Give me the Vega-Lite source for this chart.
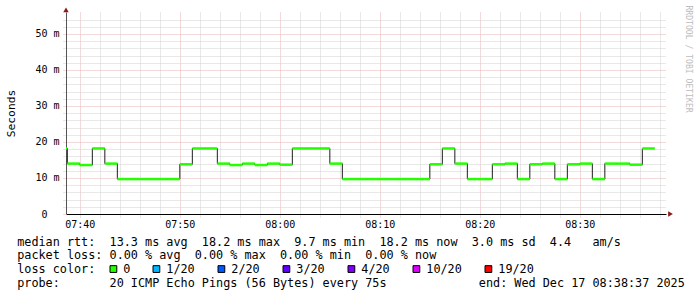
{
  "$schema": "https://vega.github.io/schema/vega-lite/v6.json",
  "width": 600,
  "height": 202,
  "autosize": {"type": "none"},
  "padding": {"left": 66, "top": 12, "right": 31, "bottom": 83},
  "background": "white",
  "config": {
    "view": {"stroke": null},
    "font": "DejaVu Sans Mono"
  },
  "data": {
    "values": [
      {"start": "2025-12-17T07:37:30Z", "end": "2025-12-17T07:38:45Z", "ms": 18.2, "loss": "0"},
      {"start": "2025-12-17T07:38:45Z", "end": "2025-12-17T07:40:00Z", "ms": 14.0, "loss": "0"},
      {"start": "2025-12-17T07:40:00Z", "end": "2025-12-17T07:41:15Z", "ms": 13.6, "loss": "0"},
      {"start": "2025-12-17T07:41:15Z", "end": "2025-12-17T07:42:30Z", "ms": 18.2, "loss": "0"},
      {"start": "2025-12-17T07:42:30Z", "end": "2025-12-17T07:43:45Z", "ms": 14.0, "loss": "0"},
      {"start": "2025-12-17T07:43:45Z", "end": "2025-12-17T07:45:00Z", "ms": 9.7, "loss": "0"},
      {"start": "2025-12-17T07:45:00Z", "end": "2025-12-17T07:46:15Z", "ms": 9.7, "loss": "0"},
      {"start": "2025-12-17T07:46:15Z", "end": "2025-12-17T07:47:30Z", "ms": 9.7, "loss": "0"},
      {"start": "2025-12-17T07:47:30Z", "end": "2025-12-17T07:48:45Z", "ms": 9.7, "loss": "0"},
      {"start": "2025-12-17T07:48:45Z", "end": "2025-12-17T07:50:00Z", "ms": 9.7, "loss": "0"},
      {"start": "2025-12-17T07:50:00Z", "end": "2025-12-17T07:51:15Z", "ms": 13.8, "loss": "0"},
      {"start": "2025-12-17T07:51:15Z", "end": "2025-12-17T07:52:30Z", "ms": 18.2, "loss": "0"},
      {"start": "2025-12-17T07:52:30Z", "end": "2025-12-17T07:53:45Z", "ms": 18.2, "loss": "0"},
      {"start": "2025-12-17T07:53:45Z", "end": "2025-12-17T07:55:00Z", "ms": 14.0, "loss": "0"},
      {"start": "2025-12-17T07:55:00Z", "end": "2025-12-17T07:56:15Z", "ms": 13.6, "loss": "0"},
      {"start": "2025-12-17T07:56:15Z", "end": "2025-12-17T07:57:30Z", "ms": 14.0, "loss": "0"},
      {"start": "2025-12-17T07:57:30Z", "end": "2025-12-17T07:58:45Z", "ms": 13.6, "loss": "0"},
      {"start": "2025-12-17T07:58:45Z", "end": "2025-12-17T08:00:00Z", "ms": 14.0, "loss": "0"},
      {"start": "2025-12-17T08:00:00Z", "end": "2025-12-17T08:01:15Z", "ms": 13.7, "loss": "0"},
      {"start": "2025-12-17T08:01:15Z", "end": "2025-12-17T08:02:30Z", "ms": 18.2, "loss": "0"},
      {"start": "2025-12-17T08:02:30Z", "end": "2025-12-17T08:03:45Z", "ms": 18.2, "loss": "0"},
      {"start": "2025-12-17T08:03:45Z", "end": "2025-12-17T08:05:00Z", "ms": 18.2, "loss": "0"},
      {"start": "2025-12-17T08:05:00Z", "end": "2025-12-17T08:06:15Z", "ms": 14.0, "loss": "0"},
      {"start": "2025-12-17T08:06:15Z", "end": "2025-12-17T08:07:30Z", "ms": 9.7, "loss": "0"},
      {"start": "2025-12-17T08:07:30Z", "end": "2025-12-17T08:08:45Z", "ms": 9.7, "loss": "0"},
      {"start": "2025-12-17T08:08:45Z", "end": "2025-12-17T08:10:00Z", "ms": 9.7, "loss": "0"},
      {"start": "2025-12-17T08:10:00Z", "end": "2025-12-17T08:11:15Z", "ms": 9.7, "loss": "0"},
      {"start": "2025-12-17T08:11:15Z", "end": "2025-12-17T08:12:30Z", "ms": 9.7, "loss": "0"},
      {"start": "2025-12-17T08:12:30Z", "end": "2025-12-17T08:13:45Z", "ms": 9.7, "loss": "0"},
      {"start": "2025-12-17T08:13:45Z", "end": "2025-12-17T08:15:00Z", "ms": 9.7, "loss": "0"},
      {"start": "2025-12-17T08:15:00Z", "end": "2025-12-17T08:16:15Z", "ms": 13.8, "loss": "0"},
      {"start": "2025-12-17T08:16:15Z", "end": "2025-12-17T08:17:30Z", "ms": 18.2, "loss": "0"},
      {"start": "2025-12-17T08:17:30Z", "end": "2025-12-17T08:18:45Z", "ms": 14.0, "loss": "0"},
      {"start": "2025-12-17T08:18:45Z", "end": "2025-12-17T08:20:00Z", "ms": 9.7, "loss": "0"},
      {"start": "2025-12-17T08:20:00Z", "end": "2025-12-17T08:21:15Z", "ms": 9.7, "loss": "0"},
      {"start": "2025-12-17T08:21:15Z", "end": "2025-12-17T08:22:30Z", "ms": 13.8, "loss": "0"},
      {"start": "2025-12-17T08:22:30Z", "end": "2025-12-17T08:23:45Z", "ms": 14.0, "loss": "0"},
      {"start": "2025-12-17T08:23:45Z", "end": "2025-12-17T08:25:00Z", "ms": 9.7, "loss": "0"},
      {"start": "2025-12-17T08:25:00Z", "end": "2025-12-17T08:26:15Z", "ms": 13.8, "loss": "0"},
      {"start": "2025-12-17T08:26:15Z", "end": "2025-12-17T08:27:30Z", "ms": 14.0, "loss": "0"},
      {"start": "2025-12-17T08:27:30Z", "end": "2025-12-17T08:28:45Z", "ms": 9.7, "loss": "0"},
      {"start": "2025-12-17T08:28:45Z", "end": "2025-12-17T08:30:00Z", "ms": 13.8, "loss": "0"},
      {"start": "2025-12-17T08:30:00Z", "end": "2025-12-17T08:31:15Z", "ms": 14.0, "loss": "0"},
      {"start": "2025-12-17T08:31:15Z", "end": "2025-12-17T08:32:30Z", "ms": 9.7, "loss": "0"},
      {"start": "2025-12-17T08:32:30Z", "end": "2025-12-17T08:33:45Z", "ms": 14.0, "loss": "0"},
      {"start": "2025-12-17T08:33:45Z", "end": "2025-12-17T08:35:00Z", "ms": 14.0, "loss": "0"},
      {"start": "2025-12-17T08:35:00Z", "end": "2025-12-17T08:36:15Z", "ms": 13.7, "loss": "0"},
      {"start": "2025-12-17T08:36:15Z", "end": "2025-12-17T08:37:30Z", "ms": 18.2, "loss": "0"}
    ]
  },
  "layer": [
    {
      "mark": {"type": "line", "interpolate": "step-after", "color": "#1e1e1e", "strokeWidth": 1, "clip": true},
      "encoding": {
        "x": {"field": "start", "type": "temporal",
          "scale": {"type": "utc", "domain": [{"year": 2025, "month": 12, "date": 17, "hours": 7, "minutes": 38, "seconds": 37, "utc": true}, {"year": 2025, "month": 12, "date": 17, "hours": 8, "minutes": 38, "seconds": 37, "utc": true}]},
          "axis": {
            "orient": "bottom", "title": null, "labels": false, "domain": false,
            "values": [
              {"year": 2025, "month": 12, "date": 17, "hours": 7, "minutes": 42, "utc": true},
              {"year": 2025, "month": 12, "date": 17, "hours": 7, "minutes": 44, "utc": true},
              {"year": 2025, "month": 12, "date": 17, "hours": 7, "minutes": 46, "utc": true},
              {"year": 2025, "month": 12, "date": 17, "hours": 7, "minutes": 48, "utc": true},
              {"year": 2025, "month": 12, "date": 17, "hours": 7, "minutes": 52, "utc": true},
              {"year": 2025, "month": 12, "date": 17, "hours": 7, "minutes": 54, "utc": true},
              {"year": 2025, "month": 12, "date": 17, "hours": 7, "minutes": 56, "utc": true},
              {"year": 2025, "month": 12, "date": 17, "hours": 7, "minutes": 58, "utc": true},
              {"year": 2025, "month": 12, "date": 17, "hours": 8, "minutes": 2, "utc": true},
              {"year": 2025, "month": 12, "date": 17, "hours": 8, "minutes": 4, "utc": true},
              {"year": 2025, "month": 12, "date": 17, "hours": 8, "minutes": 6, "utc": true},
              {"year": 2025, "month": 12, "date": 17, "hours": 8, "minutes": 8, "utc": true},
              {"year": 2025, "month": 12, "date": 17, "hours": 8, "minutes": 12, "utc": true},
              {"year": 2025, "month": 12, "date": 17, "hours": 8, "minutes": 14, "utc": true},
              {"year": 2025, "month": 12, "date": 17, "hours": 8, "minutes": 16, "utc": true},
              {"year": 2025, "month": 12, "date": 17, "hours": 8, "minutes": 18, "utc": true},
              {"year": 2025, "month": 12, "date": 17, "hours": 8, "minutes": 22, "utc": true},
              {"year": 2025, "month": 12, "date": 17, "hours": 8, "minutes": 24, "utc": true},
              {"year": 2025, "month": 12, "date": 17, "hours": 8, "minutes": 26, "utc": true},
              {"year": 2025, "month": 12, "date": 17, "hours": 8, "minutes": 28, "utc": true},
              {"year": 2025, "month": 12, "date": 17, "hours": 8, "minutes": 32, "utc": true},
              {"year": 2025, "month": 12, "date": 17, "hours": 8, "minutes": 34, "utc": true},
              {"year": 2025, "month": 12, "date": 17, "hours": 8, "minutes": 36, "utc": true},
              {"year": 2025, "month": 12, "date": 17, "hours": 8, "minutes": 38, "utc": true}
            ],
            "tickSize": 3, "tickColor": "#d0d0d0", "tickDash": [1, 1],
            "grid": true, "gridColor": "#d0d0d0", "gridDash": [1, 1], "gridOpacity": 1
          }},
        "y": {"field": "ms", "type": "quantitative", "scale": {"domain": [0, 56.1], "nice": false},
          "axis": {
            "orient": "left", "title": null, "labels": false, "domain": false,
            "values": [2, 4, 6, 8, 12, 14, 16, 18, 22, 24, 26, 28, 32, 34, 36, 38, 42, 44, 46, 48, 52, 54],
            "tickSize": 3, "tickColor": "#d0d0d0", "tickDash": [1, 1],
            "grid": true, "gridColor": "#d0d0d0", "gridDash": [1, 1], "gridOpacity": 1
          }}
      }
    },
    {
      "mark": {"type": "rule", "strokeWidth": 2.5, "strokeCap": "butt", "clip": true},
      "encoding": {
        "x": {"field": "start", "type": "temporal",
          "scale": {"type": "utc", "domain": [{"year": 2025, "month": 12, "date": 17, "hours": 7, "minutes": 38, "seconds": 37, "utc": true}, {"year": 2025, "month": 12, "date": 17, "hours": 8, "minutes": 38, "seconds": 37, "utc": true}]},
          "axis": {
            "orient": "bottom",
            "title": [
              "median\u00a0rtt:\u00a0\u00a013.3\u00a0ms\u00a0avg\u00a0\u00a018.2\u00a0ms\u00a0max\u00a0\u00a09.7\u00a0ms\u00a0min\u00a0\u00a018.2\u00a0ms\u00a0now\u00a0\u00a03.0\u00a0ms\u00a0sd\u00a0\u00a04.4\u00a0\u00a0\u00a0am/s",
              "packet\u00a0loss:\u00a00.00\u00a0%\u00a0avg\u00a0\u00a00.00\u00a0%\u00a0max\u00a0\u00a00.00\u00a0%\u00a0min\u00a0\u00a00.00\u00a0%\u00a0now",
              "loss\u00a0color:",
              "probe:\u00a0\u00a0\u00a0\u00a0\u00a0\u00a0\u00a020\u00a0ICMP\u00a0Echo\u00a0Pings\u00a0(56\u00a0Bytes)\u00a0every\u00a075s\u00a0\u00a0\u00a0\u00a0\u00a0\u00a0\u00a0\u00a0\u00a0\u00a0\u00a0\u00a0\u00a0end:\u00a0Wed\u00a0Dec\u00a017\u00a008:38:37\u00a02025"
            ],
            "titleX": -49.3, "titleY": 31, "titleAlign": "left", "titleAnchor": "start", "titleBaseline": "alphabetic", "titleAngle": 0,
            "titleFont": "DejaVu Sans Mono", "titleFontSize": 11.8, "titleFontWeight": "normal", "titleColor": "black", "titleLineHeight": 13.8, "titleLimit": 1000,
            "values": [
              {"year": 2025, "month": 12, "date": 17, "hours": 7, "minutes": 40, "utc": true},
              {"year": 2025, "month": 12, "date": 17, "hours": 7, "minutes": 50, "utc": true},
              {"year": 2025, "month": 12, "date": 17, "hours": 8, "minutes": 0, "utc": true},
              {"year": 2025, "month": 12, "date": 17, "hours": 8, "minutes": 10, "utc": true},
              {"year": 2025, "month": 12, "date": 17, "hours": 8, "minutes": 20, "utc": true},
              {"year": 2025, "month": 12, "date": 17, "hours": 8, "minutes": 30, "utc": true}
            ],
            "labelExpr": "utcFormat(datum.value, '%H:%M')",
            "labelFont": "DejaVu Sans Mono", "labelFontSize": 10, "labelColor": "black", "labelPadding": 2,
            "labelOverlap": false, "labelFlush": false, "labelBound": false,
            "tickSize": 3, "tickColor": "#e6b4b4", "tickDash": [1, 1],
            "grid": true, "gridColor": "#e6b4b4", "gridDash": [1, 1], "gridOpacity": 1,
            "domainColor": "black", "domainWidth": 1
          }},
        "x2": {"field": "end"},
        "y": {"field": "ms", "type": "quantitative", "scale": {"domain": [0, 56.1], "nice": false},
          "axis": {
            "orient": "left",
            "title": "Seconds", "titleFont": "DejaVu Sans Mono", "titleFontSize": 11.3, "titleFontWeight": "normal", "titleColor": "black", "titlePadding": 18,
            "values": [0, 10, 20, 30, 40, 50],
            "labelExpr": "datum.value === 0 ? '0' : datum.value + ' m'",
            "labelFont": "DejaVu Sans Mono", "labelFontSize": 10, "labelColor": "black",
            "labelPadding": {"condition": {"test": "datum.value === 0", "value": 16}, "value": 4},
            "labelOverlap": false, "labelFlush": false, "labelBound": false,
            "tickSize": 3, "tickColor": "#e6b4b4", "tickDash": [1, 1],
            "grid": true, "gridColor": "#e6b4b4", "gridDash": [1, 1], "gridOpacity": 1,
            "domainColor": "#555555", "domainWidth": 1
          }},
        "stroke": {"field": "loss", "type": "nominal",
          "scale": {"domain": ["0"], "range": ["#26ff00"]},
          "legend": null}
      }
    },
    {
      "mark": {"type": "square", "filled": true, "stroke": "black", "strokeWidth": 1, "size": 0, "clip": true},
      "encoding": {
        "x": {"field": "start", "type": "temporal", "axis": null,
          "scale": {"type": "utc", "domain": [{"year": 2025, "month": 12, "date": 17, "hours": 7, "minutes": 38, "seconds": 37, "utc": true}, {"year": 2025, "month": 12, "date": 17, "hours": 8, "minutes": 38, "seconds": 37, "utc": true}]}},
        "y": {"field": "ms", "type": "quantitative", "axis": null, "scale": {"domain": [0, 56.1], "nice": false}},
        "color": {"field": "loss", "type": "nominal",
          "scale": {"domain": ["0", "1/20", "2/20", "3/20", "4/20", "10/20", "19/20"],
                    "range": ["#26ff00", "#00b8ff", "#0059ff", "#5e00ff", "#7e00ff", "#dd00ff", "#ff0000"]},
          "legend": {
            "orient": "none", "legendX": 41.5, "legendY": 251, "direction": "horizontal",
            "title": null, "padding": 0,
            "labelFont": "DejaVu Sans Mono", "labelFontSize": 11.8, "labelColor": "black", "labelOffset": 4,
            "symbolType": "square", "symbolSize": 46, "symbolStrokeWidth": 1, "symbolStrokeColor": "black", "symbolOpacity": 1, "columnPadding": 20
          }}
      }
    },
    {
      "data": {"values": [{}]},
      "mark": {"type": "point", "shape": "triangle-up", "filled": true, "size": 30, "color": "#8b1a1a", "opacity": 1},
      "encoding": {
        "x": {"datum": {"year": 2025, "month": 12, "date": 17, "hours": 7, "minutes": 38, "seconds": 37, "utc": true}, "type": "temporal", "axis": null},
        "y": {"datum": 56.7, "type": "quantitative",
          "axis": {"orient": "right", "title": "RRDTOOL / TOBI OETIKER", "labels": false, "ticks": false, "domain": false, "grid": false,
            "titleAngle": 90, "titleX": 21.5, "titleY": -7, "titleAlign": "left", "titleBaseline": "middle",
            "titleFont": "DejaVu Sans Mono", "titleFontSize": 8.1, "titleFontWeight": "normal", "titleColor": "#bdbdbd"}}
      }
    },
    {
      "data": {"values": [{}]},
      "mark": {"type": "point", "shape": "triangle-right", "filled": true, "size": 30, "color": "#8b1a1a", "opacity": 1},
      "encoding": {
        "x": {"datum": {"year": 2025, "month": 12, "date": 17, "hours": 8, "minutes": 39, "seconds": 4, "utc": true}, "type": "temporal", "axis": null},
        "y": {"datum": 0, "type": "quantitative", "axis": null}
      }
    }
  ],
  "resolve": {"axis": {"x": "independent", "y": "independent"}}
}
